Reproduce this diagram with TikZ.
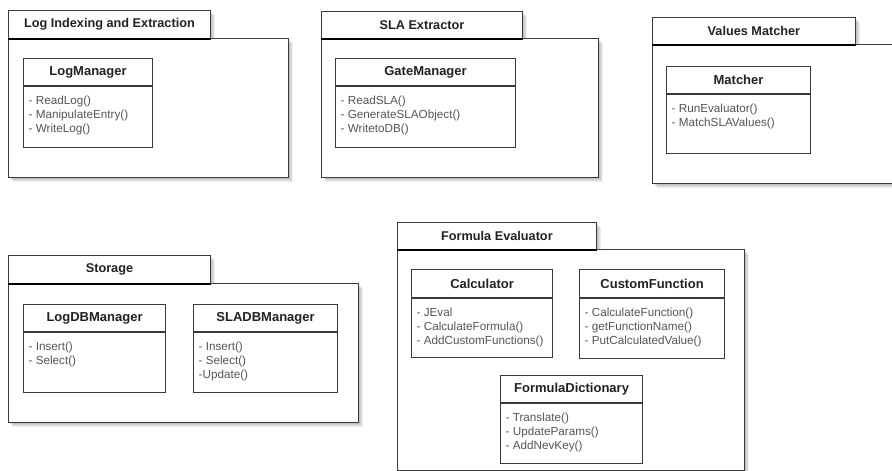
\documentclass[tikz,border=0pt]{standalone}
\usepackage{fontspec}
\setmainfont{Liberation Sans}
\definecolor{linecol}{HTML}{3A3A3A}
\definecolor{titlecol}{HTML}{222222}
\definecolor{methcol}{HTML}{555555}

% Package: shadow, body, tab with its title, heavy tab underline
% #1 name, #2 x, #3 y, #4 tab width, #5 tab height, #6 body width, #7 body height, #8 title
\newcommand\umlpkg[8]{%
  \foreach \k in {1,...,5}{%
    \fill[black,opacity=0.065] (#2+\k,#3+\k) rectangle (#2+#4+\k,#3+#5+\k);
    \fill[black,opacity=0.065] (#2+\k,#3+#5+\k) rectangle (#2+#6+\k,#3+#5+#7+\k);
  }
  \node[pkgbody, minimum width=#6, minimum height=#7] (#1) at (#2,#3+#5) {};
  \node[pkgtab, minimum width=#4, minimum height=#5] (#1-tab) at (#2,#3) {#8};
  \draw[tabline] (#1-tab.south west) -- (#1-tab.south east);
}

% Class: name compartment and operations compartment
% #1 name, #2 x, #3 y, #4 width, #5 header height, #6 body height, #7 title, #8 operations
\newcommand\umlclass[8]{%
  \node[classhead, minimum width=#4, minimum height=#5] (#1) at (#2,#3) {#7};
  \node[classbody, minimum width=#4, minimum height=#6] (#1-ops) at (#1.south west) {};
  \node[methods] (#1-list) at ([xshift=5.5pt,yshift=-10pt]#1-ops.north west) {#8};
}

\begin{document}
\begin{tikzpicture}[x=1pt,y=-1pt,
  pkgbody/.style={draw=linecol, fill=white, line width=0.9pt, inner sep=0pt, anchor=north west},
  pkgtab/.style={draw=linecol, fill=white, line width=0.9pt, inner sep=0pt, anchor=north west,
    font=\fontsize{12.7}{15}\selectfont\bfseries, text=titlecol},
  tabline/.style={black, line width=1.6pt},
  classhead/.style={draw=linecol, fill=white, line width=1.1pt, inner sep=0pt, anchor=north west,
    font=\fontsize{13}{15}\selectfont\bfseries, text=titlecol},
  classbody/.style={draw=linecol, fill=white, line width=1.1pt, inner sep=0pt, anchor=north west},
  methods/.style={inner sep=0pt, anchor=north west, align=left,
    font=\fontsize{11.7}{14}\selectfont, text=methcol}]
\useasboundingbox (0,0) rectangle (892,471);
\fill[white] (0,0) rectangle (892,471);
\clip (0,0) rectangle (892,471);

% Log Indexing and Extraction
\umlpkg{logpkg}{8}{10}{202}{28}{280}{139}{Log Indexing and Extraction}
\umlclass{logmanager}{23}{58}{129}{27}{61}{LogManager}
  {- ReadLog()\\- ManipulateEntry()\\- WriteLog()}

% SLA Extractor
\umlpkg{slapkg}{321}{11}{201}{27}{277}{139}{SLA Extractor}
\umlclass{gatemanager}{335}{58}{180}{27}{61}{GateManager}
  {- ReadSLA()\\- GenerateSLAObject()\\- WritetoDB()}

% Values Matcher
\umlpkg{matchpkg}{652}{17}{203}{27}{250}{139}{Values Matcher}
\umlclass{matcher}{666}{66}{144}{27}{59}{Matcher}
  {- RunEvaluator()\\- MatchSLAValues()}

% Storage
\umlpkg{storagepkg}{8}{255}{202}{28}{350}{139}{Storage}
\umlclass{logdb}{23}{304}{142}{27}{60}{LogDBManager}
  {- Insert()\\- Select()}
\umlclass{sladb}{193}{304}{144}{27}{60}{SLADBManager}
  {- Insert()\\- Select()\\-Update()}

% Formula Evaluator
\umlpkg{formulapkg}{397}{222}{199}{27}{347}{221}{Formula Evaluator}
\umlclass{calculator}{411}{269}{141}{28}{59}{Calculator}
  {- JEval\\- CalculateFormula()\\- AddCustomFunctions()}
\umlclass{customfn}{579}{269}{145}{28}{60}{CustomFunction}
  {- CalculateFunction()\\- getFunctionName()\\- PutCalculatedValue()}
\umlclass{formuladict}{500}{375}{142}{27}{60}{FormulaDictionary}
  {- Translate()\\- UpdateParams()\\- AddNevKey()}
\end{tikzpicture}
\end{document}
